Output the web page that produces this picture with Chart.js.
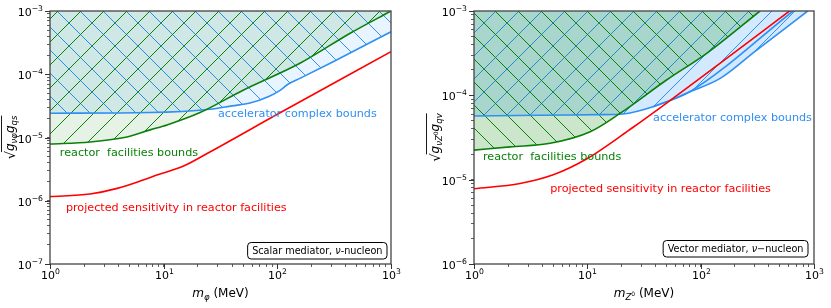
<!DOCTYPE html>
<html>
<head>
<meta charset="utf-8">
<script src="https://cdn.jsdelivr.net/npm/chart.js@4.4.0/dist/chart.umd.min.js"></script>
<style>
  html, body { margin: 0; padding: 0; background: #fff; }
  #wrap { position: relative; width: 831px; height: 308px; }
  canvas { position: absolute; top: 0; }
  #campEscalar { left: 0; }
  #campVector { left: 415px; }
</style>
</head>
<body>
<div id="wrap">
  <canvas id="campEscalar" width="415" height="308"></canvas>
  <canvas id="campVector" width="416" height="308"></canvas>
</div>
<script>
// ---- datos (MeV, acoplamiento) ----
// panel izquierdo: mediador escalar
const escAcelX = [1, 7.6, 25.5, 40, 57.5, 85, 105, 125, 158, 310, 1000];
const escAcelY = [2.42e-5, 2.48e-5, 2.8e-5, 3.16e-5, 3.5e-5, 4.5e-5, 5.5e-5, 7.0e-5, 8.6e-5, 1.58e-4, 4.7e-4];
const escReacX = [1, 2.25, 4.76, 7.6, 10.7, 20.9, 50, 158, 437, 1000];
const escReacY = [7.9e-6, 8.5e-6, 1.02e-5, 1.32e-5, 1.58e-5, 2.48e-5, 5.6e-5, 1.49e-4, 4.45e-4, 1e-3];
const escProyX = [1, 2.25, 3.9, 6.6, 8.7, 14.8, 25.5, 100, 1000];
const escProyY = [1.16e-6, 1.28e-6, 1.57e-6, 2.13e-6, 2.55e-6, 3.5e-6, 5.9e-6, 2.33e-5, 2.28e-4];

// panel derecho: mediador vectorial
const vecAcelX = [1, 3.8, 12.9, 20.6, 38, 80, 150, 300, 880];
const vecAcelY = [5.68e-5, 5.8e-5, 5.9e-5, 6.0e-5, 7.3e-5, 1.1e-4, 1.6e-4, 3.3e-4, 1e-3];
const vecAcel2X = [38, 80, 655];
const vecAcel2Y = [7.3e-5, 1.1e-4, 1e-3];
const vecReacX = [1, 2.08, 4.7, 10.6, 19.4, 50, 113, 334];
const vecReacY = [2.24e-5, 2.45e-5, 2.7e-5, 3.7e-5, 6.1e-5, 1.52e-4, 3.15e-4, 1e-3];
const vecProyX = [1, 2.55, 5, 10, 24.8, 50, 1000];
const vecProyY = [7.8e-6, 9.0e-6, 1.14e-5, 1.78e-5, 4.1e-5, 8.1e-5, 1.65e-3];

const expX = [0, 1, 2, 3];
const expYEsc = [-7, -6, -5, -4, -3];
const expYVec = [-6, -5, -4, -3];

const azul = "#2f8ff5";
const verde = "#0a800a";
const rojo = "#ff0000";
const FUENTE = '"DejaVu Sans"';

function puntos(xs, ys) {
  return xs.map((x, i) => ({ x: x, y: ys[i] }));
}

function marcasLog(min, max) {
  const v = [];
  for (let e = Math.round(Math.log10(min)); Math.pow(10, e) <= max; e++) {
    for (let m = 1; m < 10; m++) {
      const t = m * Math.pow(10, e);
      if (t >= min * 0.999 && t <= max * 1.001) v.push({ value: t });
    }
  }
  return v;
}

function trama(ctx, fondo, color, sentido, paso) {
  const c = document.createElement("canvas");
  c.width = c.height = paso;
  const g = c.getContext("2d");
  g.fillStyle = fondo;
  g.fillRect(0, 0, paso, paso);
  g.strokeStyle = color;
  g.lineWidth = 1;
  for (const k of [-paso, 0, paso]) {
    g.beginPath();
    if (sentido === "/") {
      g.moveTo(k, paso);
      g.lineTo(k + paso, 0);
    } else {
      g.moveTo(k, 0);
      g.lineTo(k + paso, paso);
    }
    g.stroke();
  }
  return ctx.createPattern(c, "repeat");
}

// texto con partes (cursiva, subindices)
function anchoPartes(ctx, partes) {
  let w = 0;
  for (const p of partes) {
    ctx.font = p.f;
    w += ctx.measureText(p.t).width;
  }
  return w;
}
function dibujarPartes(ctx, partes, x, y) {
  for (const p of partes) {
    ctx.font = p.f;
    ctx.fillText(p.t, x, y + (p.dy || 0));
    x += ctx.measureText(p.t).width;
  }
  return x;
}

function potencia(ctx, exp, x, y, alinear) {
  const base = "10";
  const sup = exp < 0 ? "\u2212" + (-exp) : String(exp);
  ctx.font = "11px " + FUENTE;
  const wb = ctx.measureText(base).width;
  ctx.font = "7.7px " + FUENTE;
  const ws = ctx.measureText(sup).width;
  const x0 = alinear === "right" ? x - wb - ws : x - (wb + ws) / 2;
  ctx.textAlign = "left";
  ctx.textBaseline = "alphabetic";
  ctx.font = "11px " + FUENTE;
  ctx.fillText(base, x0, y);
  ctx.font = "7.7px " + FUENTE;
  ctx.fillText(sup, x0 + wb, y - 5);
}

function decorado(cfg) {
  return {
    id: "decorado",
    afterDatasetsDraw(chart) {
      const ctx = chart.ctx;
      const a = chart.chartArea;
      ctx.save();
      ctx.strokeStyle = "#444";
      ctx.lineWidth = 1.3;
      ctx.strokeRect(a.left, a.top, a.right - a.left, a.bottom - a.top);
      ctx.restore();
    },
    afterDraw(chart) {
      const ctx = chart.ctx;
      const a = chart.chartArea;
      const xs = chart.scales.x;
      const ys = chart.scales.y;
      ctx.save();
      ctx.fillStyle = "#000";
      ctx.strokeStyle = "#333";
      ctx.lineWidth = 1;
      // marcas mayores y etiquetas
      for (const e of expX) {
        const px = Math.round(xs.getPixelForValue(Math.pow(10, e))) + 0.5;
        ctx.beginPath();
        ctx.moveTo(px, a.bottom);
        ctx.lineTo(px, a.bottom + 5);
        ctx.stroke();
        potencia(ctx, e, px, a.bottom + 15, "center");
      }
      for (const e of cfg.expY) {
        const py = Math.round(ys.getPixelForValue(Math.pow(10, e))) + 0.5;
        ctx.beginPath();
        ctx.moveTo(a.left, py);
        ctx.lineTo(a.left - 5, py);
        ctx.stroke();
        potencia(ctx, e, a.left - 7, py + 4, "right");
      }
      // titulo eje x
      const wx = anchoPartes(ctx, cfg.tituloX);
      ctx.textAlign = "left";
      dibujarPartes(ctx, cfg.tituloX, (a.left + a.right) / 2 - wx / 2, 297);
      // titulo eje y (rotado, con raiz)
      ctx.save();
      ctx.translate(cfg.yTituloX, (a.top + a.bottom) / 2);
      ctx.rotate(-Math.PI / 2);
      const raiz = [{ t: "\u221a", f: "13px " + FUENTE }];
      const wr = anchoPartes(ctx, raiz);
      const wy = wr + anchoPartes(ctx, cfg.tituloY);
      const x0 = -wy / 2;
      dibujarPartes(ctx, raiz, x0, 5);
      const xf = dibujarPartes(ctx, cfg.tituloY, x0 + wr, 4);
      ctx.beginPath();
      ctx.lineWidth = 0.9;
      ctx.strokeStyle = "#000";
      ctx.moveTo(x0 + wr - 1, -8.5);
      ctx.lineTo(xf, -8.5);
      ctx.stroke();
      ctx.restore();
      // textos de las curvas
      ctx.textBaseline = "middle";
      ctx.textAlign = "left";
      ctx.font = "11.2px " + FUENTE;
      for (const t of cfg.textos) {
        ctx.fillStyle = t.c;
        ctx.fillText(t.t, xs.getPixelForValue(t.x), ys.getPixelForValue(t.y));
      }
      // caja con la descripcion
      ctx.textBaseline = "alphabetic";
      ctx.fillStyle = "#000";
      const wc = anchoPartes(ctx, cfg.caja);
      const bx1 = a.right - cfg.cajaDx;
      const by1 = a.bottom - cfg.cajaDy;
      const bx0 = bx1 - wc - 9;
      const by0 = by1 - 16.5;
      ctx.beginPath();
      ctx.roundRect(bx0, by0, bx1 - bx0, by1 - by0, 3.5);
      ctx.fillStyle = "#fff";
      ctx.fill();
      ctx.strokeStyle = "#000";
      ctx.lineWidth = 1;
      ctx.stroke();
      ctx.fillStyle = "#000";
      dibujarPartes(ctx, cfg.caja, bx0 + 4.5, by1 - 4.8);
      ctx.restore();
    }
  };
}

function ejes(yMin, yMax, anchoY) {
  return {
    x: {
      type: "logarithmic",
      min: 1,
      max: 1000,
      afterBuildTicks: (s) => { s.ticks = marcasLog(1, 1000); },
      afterFit: (s) => { s.height = 44; },
      ticks: { callback: () => "", autoSkip: false, maxRotation: 0 },
      grid: { drawOnChartArea: false, tickLength: 3, tickColor: "#333", tickWidth: 0.8 },
      border: { display: false }
    },
    y: {
      type: "logarithmic",
      min: yMin,
      max: yMax,
      afterBuildTicks: (s) => { s.ticks = marcasLog(yMin, yMax); },
      afterFit: (s) => { s.width = anchoY; },
      ticks: { callback: () => "", autoSkip: false },
      grid: { drawOnChartArea: false, tickLength: 3, tickColor: "#333", tickWidth: 0.8 },
      border: { display: false }
    }
  };
}

function linea(xs, ys, color, fondo) {
  return {
    data: puntos(xs, ys),
    borderColor: color,
    borderWidth: 1.6,
    backgroundColor: fondo || "transparent",
    fill: fondo ? "end" : false,
    pointRadius: 0,
    cubicInterpolationMode: "monotone"
  };
}

function opcionesBase(yMin, yMax, anchoY, derecha) {
  return {
    responsive: false,
    animation: false,
    events: [],
    layout: { padding: { top: 11, right: derecha, left: 0, bottom: 0 } },
    plugins: {
      legend: { display: false },
      tooltip: { enabled: false },
      filler: { drawTime: "beforeDatasetsDraw" }
    },
    scales: ejes(yMin, yMax, anchoY)
  };
}

// ---- panel escalar ----
const ctxEsc = document.querySelector("#campEscalar").getContext("2d");
new Chart(ctxEsc, {
  type: "line",
  data: {
    datasets: [
      linea(escProyX, escProyY, rojo),
      linea(escReacX, escReacY, verde, trama(ctxEsc, "rgba(0,128,0,0.1)", verde, "/", 23)),
      linea(escAcelX, escAcelY, azul, trama(ctxEsc, "rgba(30,144,255,0.1)", azul, "\\", 23))
    ]
  },
  options: opcionesBase(1e-7, 1e-3, 50, 24),
  plugins: [decorado({
    expY: expYEsc,
    yTituloX: 10,
    tituloX: [
      { t: "m", f: "italic 12px " + FUENTE },
      { t: "\u03c6", f: "italic 8.5px " + FUENTE, dy: 3 },
      { t: " (MeV)", f: "12px " + FUENTE }
    ],
    tituloY: [
      { t: "g", f: "italic 12px " + FUENTE },
      { t: "\u03bd\u03c6", f: "italic 8.5px " + FUENTE, dy: 3 },
      { t: "g", f: "italic 12px " + FUENTE },
      { t: "qs", f: "italic 8.5px " + FUENTE, dy: 3 }
    ],
    textos: [
      { t: "accelerator complex bounds", x: 30, y: 2.35e-5, c: azul },
      { t: "reactor  facilities bounds", x: 1.22, y: 5.7e-6, c: verde },
      { t: "projected sensitivity in reactor facilities", x: 1.38, y: 7.7e-7, c: rojo }
    ],
    caja: [
      { t: "Scalar mediator, ", f: "9.7px " + FUENTE },
      { t: "\u03bd", f: "italic 9.7px " + FUENTE },
      { t: "-nucleon", f: "9.7px " + FUENTE }
    ],
    cajaDx: 4,
    cajaDy: 5
  })]
});

// ---- panel vectorial ----
const ctxVec = document.querySelector("#campVector").getContext("2d");
new Chart(ctxVec, {
  type: "line",
  data: {
    datasets: [
      linea(vecProyX, vecProyY, rojo),
      linea(vecReacX, vecReacY, verde, trama(ctxVec, "rgba(0,128,0,0.2)", verde, "\\", 23)),
      linea(vecAcel2X, vecAcel2Y, azul),
      linea(vecAcelX, vecAcelY, azul, trama(ctxVec, "rgba(30,144,255,0.2)", azul, "/", 23))
    ]
  },
  options: opcionesBase(1e-6, 1e-3, 59, 17),
  plugins: [decorado({
    expY: expYVec,
    yTituloX: 20,
    tituloX: [
      { t: "m", f: "italic 12px " + FUENTE },
      { t: "Z", f: "italic 8.5px " + FUENTE, dy: 3 },
      { t: "0", f: "6px " + FUENTE, dy: -1 },
      { t: " (MeV)", f: "12px " + FUENTE }
    ],
    tituloY: [
      { t: "g", f: "italic 12px " + FUENTE },
      { t: "\u03bdZ", f: "italic 8.5px " + FUENTE, dy: 3 },
      { t: "0", f: "6px " + FUENTE, dy: -1 },
      { t: "g", f: "italic 12px " + FUENTE },
      { t: "qv", f: "italic 8.5px " + FUENTE, dy: 3 }
    ],
    textos: [
      { t: "accelerator complex bounds", x: 38, y: 5.4e-5, c: azul },
      { t: "reactor  facilities bounds", x: 1.2, y: 1.85e-5, c: verde },
      { t: "projected sensitivity in reactor facilities", x: 4.7, y: 7.75e-6, c: rojo }
    ],
    caja: [
      { t: "Vector mediator, ", f: "9.7px " + FUENTE },
      { t: "\u03bd", f: "italic 9.7px " + FUENTE },
      { t: "\u2212nucleon", f: "9.7px " + FUENTE }
    ],
    cajaDx: 6,
    cajaDy: 7
  })]
});
</script>
</body>
</html>
